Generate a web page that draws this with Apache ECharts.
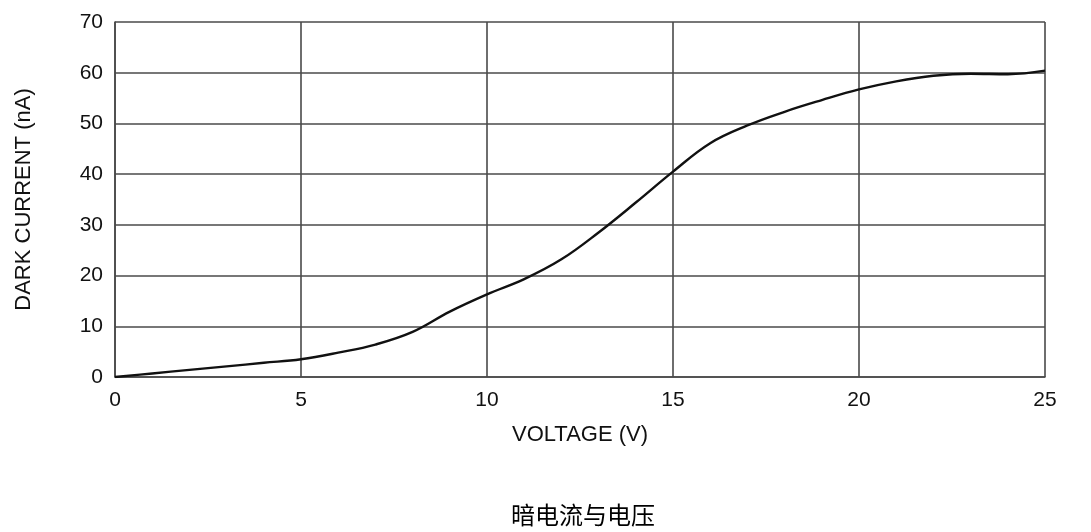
<!DOCTYPE html>
<html>
<head>
<meta charset="utf-8">
<script src="https://cdn.jsdelivr.net/npm/echarts@6/dist/echarts.min.js"></script>
<style>html,body{margin:0;padding:0;background:#fff;}#c{width:1091px;height:532px;}</style>
</head>
<body>
<div id="c"></div>
<script>
const voltage = [0, 1, 2, 3, 4, 5, 6, 7, 8, 9, 10, 11, 12, 13, 14, 15, 16, 17, 18, 19, 20, 21, 22, 23, 24, 25];
const darkCurrent = [0, 0.7, 1.4, 2.1, 2.8, 3.5, 4.8, 6.4, 8.9, 12.9, 16.3, 19.3, 23.2, 28.5, 34.4, 40.5, 46.1, 49.6, 52.3, 54.6, 56.7, 58.3, 59.4, 59.8, 59.7, 60.4];
const xTicks = { min: 0, max: 25, interval: 5 };
const yTicks = { min: 0, max: 70, interval: 10 };
const titleText = '暗电流与电压';
const xName = 'VOLTAGE (V)';
const yName = 'DARK CURRENT (nA)';

const chart = echarts.init(document.getElementById('c'));
const gridLine = { show: true, lineStyle: { color: '#4a4a4a', width: 1.6 } };
const labelFont = { color: '#111', fontSize: 21, fontFamily: 'Liberation Sans, Arial, sans-serif' };
const nameFont = { color: '#111', fontSize: 22, fontFamily: 'Liberation Sans, Arial, sans-serif' };
chart.setOption({
  animation: false,
  backgroundColor: '#fff',
  title: {
    text: titleText,
    left: 506,
    top: 498,
    textStyle: { color: '#000', fontSize: 24, fontWeight: 'normal', fontFamily: 'Noto Sans CJK SC' }
  },
  grid: { left: 115, right: 46, top: 22, bottom: 155 },
  xAxis: {
    type: 'value',
    min: xTicks.min, max: xTicks.max, interval: xTicks.interval,
    name: xName, nameLocation: 'middle', nameGap: 47,
    nameTextStyle: nameFont,
    axisLine: { show: true, lineStyle: { color: '#4a4a4a', width: 1.6 } },
    axisTick: { show: false },
    axisLabel: Object.assign({ margin: 13 }, labelFont),
    splitLine: gridLine
  },
  yAxis: {
    type: 'value',
    min: yTicks.min, max: yTicks.max, interval: yTicks.interval,
    name: yName, nameLocation: 'middle', nameGap: 80,
    nameTextStyle: nameFont,
    axisLine: { show: true, lineStyle: { color: '#4a4a4a', width: 1.6 } },
    axisTick: { show: false },
    axisLabel: Object.assign({ margin: 12 }, labelFont),
    splitLine: gridLine
  },
  series: [{
    type: 'line',
    data: voltage.map((v, i) => [v, darkCurrent[i]]),
    smooth: 0.4,
    showSymbol: false,
    lineStyle: { color: '#111', width: 2.4 }
  }]
});
</script>
</body>
</html>
